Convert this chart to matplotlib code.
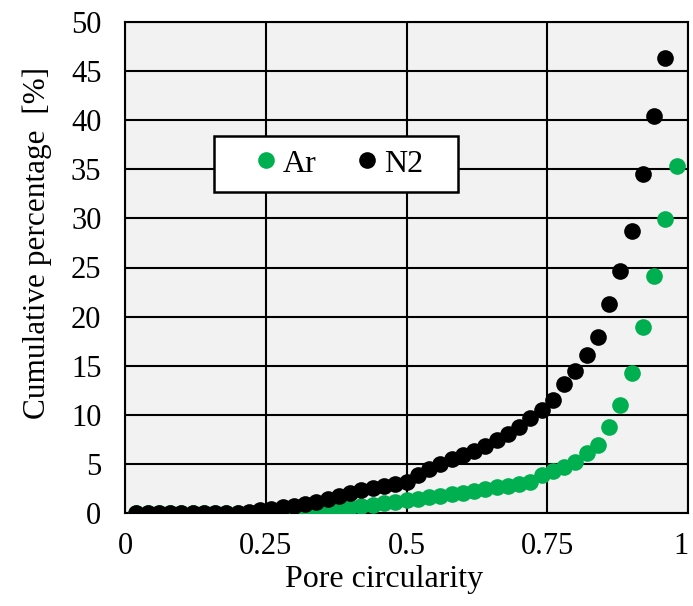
import matplotlib
matplotlib.use("Agg")
import matplotlib.pyplot as plt
from matplotlib.patches import Rectangle
from matplotlib.transforms import ScaledTranslation

plt.rcParams['font.family'] = ['Liberation Serif', 'DejaVu Serif']

# pore circularity bins (0.02 step)
x_ar = [0.02, 0.04, 0.06, 0.08, 0.10, 0.12, 0.14, 0.16, 0.18, 0.20,
        0.22, 0.24, 0.26, 0.28, 0.30, 0.32, 0.34, 0.36, 0.38, 0.40,
        0.42, 0.44, 0.46, 0.48, 0.50, 0.52, 0.54, 0.56, 0.58, 0.60,
        0.62, 0.64, 0.66, 0.68, 0.70, 0.72, 0.74, 0.76, 0.78, 0.80,
        0.82, 0.84, 0.86, 0.88, 0.90, 0.92, 0.94, 0.96, 0.98]
y_ar = [0, 0, 0, 0, 0, 0, 0, 0, 0, 0,
        0.0, 0.05, 0.1, 0.15, 0.2, 0.25, 0.3, 0.4, 0.5, 0.6,
        0.7, 0.85, 1.0, 1.1, 1.3, 1.45, 1.6, 1.75, 1.9, 2.05,
        2.2, 2.4, 2.6, 2.8, 3.0, 3.2, 3.9, 4.3, 4.7, 5.2,
        6.1, 6.9, 8.8, 11.0, 14.3, 18.9, 24.1, 29.9, 35.3]

x_n2 = [0.02, 0.04, 0.06, 0.08, 0.10, 0.12, 0.14, 0.16, 0.18, 0.20,
        0.22, 0.24, 0.26, 0.28, 0.30, 0.32, 0.34, 0.36, 0.38, 0.40,
        0.42, 0.44, 0.46, 0.48, 0.50, 0.52, 0.54, 0.56, 0.58, 0.60,
        0.62, 0.64, 0.66, 0.68, 0.70, 0.72, 0.74, 0.76, 0.78, 0.80,
        0.82, 0.84, 0.86, 0.88, 0.90, 0.92, 0.94, 0.96]
y_n2 = [0, 0, 0, 0, 0, 0, 0, 0, 0, 0,
        0.1, 0.3, 0.45, 0.6, 0.7, 0.9, 1.15, 1.4, 1.7, 2.0,
        2.3, 2.55, 2.8, 3.0, 3.2, 3.9, 4.5, 5.0, 5.5, 5.9,
        6.3, 6.8, 7.4, 8.0, 8.8, 9.7, 10.5, 11.5, 13.1, 14.5,
        16.1, 17.9, 21.3, 24.6, 28.7, 34.5, 40.4, 46.3]

x_ticks = [0, 0.25, 0.5, 0.75, 1]
x_tick_labels = ['0', '0.25', '0.5', '0.75', '1']
y_ticks = [0, 5, 10, 15, 20, 25, 30, 35, 40, 45, 50]

fig = plt.figure(figsize=(6.93, 6.06), dpi=100)
ax = fig.add_axes([125 / 693, 93 / 606, 563 / 693, 491 / 606])
ax.set_facecolor('#F2F2F2')

ax.plot(x_ar, y_ar, 'o', color='#00B050', markersize=12, markeredgewidth=0, label='Ar', zorder=3)
ax.plot(x_n2, y_n2, 'o', color='black', markersize=12, markeredgewidth=0, label='N2', zorder=4)

ax.set_xlim(0, 1)
ax.set_ylim(0, 50)
ax.set_xticks(x_ticks)
ax.set_xticklabels(x_tick_labels)
ax.set_yticks(y_ticks)
ax.grid(True, color='black', linewidth=1.5)
ax.set_axisbelow(True)
for s in ax.spines.values():
    s.set_linewidth(1.5)
ax.tick_params(length=0, labelsize=22)
ax.tick_params(axis='y', pad=17)
ax.tick_params(axis='x', pad=14)

# keep the last x label inside the image
last = ax.get_xticklabels()[-1]
last.set_transform(last.get_transform() + ScaledTranslation(-5 / 72, 0, fig.dpi_scale_trans))

ax.set_xlabel('Pore circularity', fontsize=23)
ax.xaxis.set_label_coords(0.46, -0.105)
ax.set_ylabel('Cumulative percentage  [%]', fontsize=22.5)
ax.yaxis.set_label_coords(-0.13, 0.55)

# legend box (Excel style, fixed size)
ax.add_patch(Rectangle((0.158, 0.654), 0.434, 0.114, transform=ax.transAxes,
                       facecolor='white', edgecolor='black', linewidth=1.8, zorder=5))
leg = ax.legend(loc='center left', bbox_to_anchor=(0.227, 0.711), ncol=2, fontsize=23,
                frameon=False, handletextpad=0.13, columnspacing=1.2,
                handlelength=0.8, borderpad=0, borderaxespad=0)
leg.set_zorder(6)

fig.savefig('out.png', dpi=100)
